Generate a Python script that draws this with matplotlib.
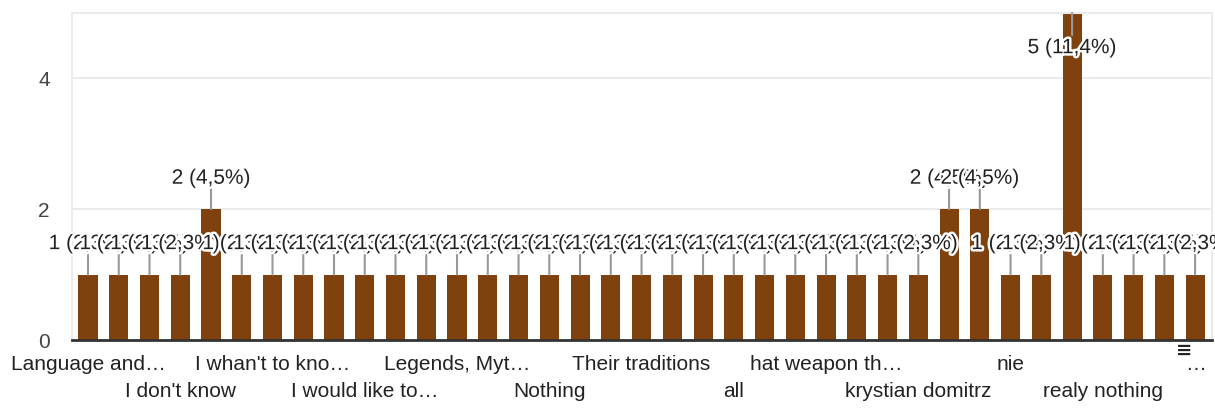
import matplotlib.pyplot as plt
import matplotlib.patheffects as pe
import numpy as np

plt.rcParams['font.family'] = ['Liberation Sans', 'DejaVu Sans']

# answers (only every third name is readable in the chart)
categories = ['Language and…', '', '', 'I don\'t know', '', '', 'I whan\'t to kno…', '', '',
              'I would like to…', '', '', 'Legends, Myt…', '', '', 'Nothing', '', '',
              'Their traditions', '', '', 'all', '', '', 'hat weapon th…', '', '',
              'krystian domitrz', '', '', 'nie', '', '', 'realy nothing', '', '', '…']
counts = [1, 1, 1, 1, 2, 1, 1, 1, 1, 1, 1, 1, 1, 1, 1, 1, 1, 1, 1,
          1, 1, 1, 1, 1, 1, 1, 1, 1, 2, 2, 1, 1, 5, 1, 1, 1, 1]
total = sum(counts)

bar_color = '#7f410d'
x = np.arange(len(categories))

fig = plt.figure(figsize=(12.15, 4.08), dpi=100)
ax = fig.add_axes([72 / 1215, 68 / 408, 1140 / 1215, 327 / 408])

ax.bar(x, counts, width=0.62, color=bar_color, zorder=2)

ax.set_xlim(-0.52, len(categories) - 0.45)
ax.set_ylim(0, 5)
ax.set_yticks([0, 2, 4])
ax.tick_params(axis='y', length=0, pad=16, labelsize=15, labelcolor='#444444')
ax.set_xticks([])
ax.grid(axis='y', color='#ebebeb', linewidth=1.5, zorder=0)
for side in ['left', 'top', 'right']:
    ax.spines[side].set_color('#ebebeb')
    ax.spines[side].set_linewidth(1.5)
ax.spines['bottom'].set_color('#333333')
ax.spines['bottom'].set_linewidth(2)
ax.spines['bottom'].set_zorder(5)

# data labels with leader lines
halo = [pe.withStroke(linewidth=3.5, foreground='white')]
ymax = ax.get_ylim()[1]
for i, v in enumerate(counts):
    pct = f'{v / total * 100:.1f}'.replace('.', ',')
    label = f'{v} ({pct}%)'
    if v >= ymax:
        line_off, text_off = -16, -25
    else:
        line_off, text_off = 14.4, 22.3
    ax.annotate('', xy=(i, v), xytext=(0, line_off), textcoords='offset points',
                arrowprops=dict(arrowstyle='-', color='#999999', lw=1.5,
                                shrinkA=0, shrinkB=0), zorder=3 + 2 * i)
    ax.annotate(label, xy=(i, v), xytext=(0, text_off), textcoords='offset points',
                ha='center', va='center', fontsize=15, color='#222222',
                path_effects=halo, zorder=4 + 2 * i, annotation_clip=False)

# category labels, staggered in two rows
tr = ax.get_xaxis_transform()
k = 0
for i, name in enumerate(categories):
    if not name:
        continue
    row_y = -0.0734 if k % 2 == 0 else -0.159
    ax.text(i, row_y, name, transform=tr, ha='center', va='center',
            fontsize=15, color='#222222', clip_on=False)
    k += 1
ax.text(len(categories) - 1.36, -0.031, '≡', transform=tr, ha='center', va='center',
        fontsize=14, color='#222222', clip_on=False,
        family=['DejaVu Sans'], fontweight='bold')

fig.savefig('out.png', dpi=100)
